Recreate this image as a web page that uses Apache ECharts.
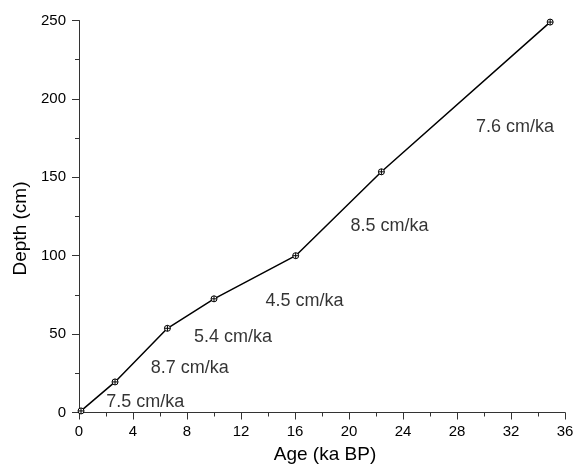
<!DOCTYPE html>
<html>
<head>
<meta charset="utf-8">
<title>Age-depth model</title>
<script src="https://cdn.jsdelivr.net/npm/echarts@6/dist/echarts.min.js"></script>
<style>
html, body { margin: 0; padding: 0; background: #fff; }
#chart { width: 574px; height: 464px; }
</style>
</head>
<body>
<div id="chart"></div>
<script>
// dated levels
var ages = [0.15, 2.67, 6.55, 10.0, 16.05, 22.4, 34.9];
var depths = [1, 19.5, 53.7, 72.5, 100, 153.5, 249];

// sedimentation rate labels
var rateText = ['7.5 cm/ka', '8.7 cm/ka', '5.4 cm/ka', '4.5 cm/ka', '8.5 cm/ka', '7.6 cm/ka'];
var rateAge = [4.9, 8.2, 11.4, 16.7, 23.0, 32.3];
var rateDepth = [6.9, 28.4, 48.3, 71.1, 118.9, 182.3];

var font = 'Liberation Sans, Arial, sans-serif';
var axisColor = '#333';

// circle with cross
var crossCircle = 'path://M0,5A5,5 0 1,1 10,5A5,5 0 1,1 0,5ZM5,0L5,10M0,5L10,5';

var chart = echarts.init(document.getElementById('chart'));

chart.setOption({
    animation: false,
    grid: { left: 79, right: 9, top: 20.5, bottom: 51.5, containLabel: false, outerBoundsMode: 'none' },
    xAxis: {
        type: 'value',
        min: 0, max: 36, interval: 4,
        name: 'Age (ka BP)',
        nameLocation: 'middle',
        nameGap: 33,
        nameTextStyle: { fontFamily: font, fontSize: 19, color: '#000', padding: [0, 0, 0, 6] },
        axisLine: { show: true, lineStyle: { color: axisColor, width: 1 } },
        axisTick: { show: true, inside: false, length: 7, lineStyle: { color: axisColor } },
        minorTick: { show: true, splitNumber: 2, length: 4, lineStyle: { color: axisColor } },
        axisLabel: { fontFamily: font, fontSize: 15, color: '#000', margin: 12 },
        splitLine: { show: false }
    },
    yAxis: {
        type: 'value',
        min: 0, max: 250, interval: 50,
        name: 'Depth (cm)',
        nameLocation: 'middle',
        nameGap: 48,
        nameTextStyle: { fontFamily: font, fontSize: 19, color: '#000', padding: [0, 24, 0, 0] },
        axisLine: { show: true, lineStyle: { color: axisColor, width: 1 } },
        axisTick: { show: true, inside: false, length: 7, lineStyle: { color: axisColor } },
        minorTick: { show: true, splitNumber: 2, length: 4, lineStyle: { color: axisColor } },
        axisLabel: { fontFamily: font, fontSize: 15, color: '#000', margin: 13 },
        splitLine: { show: false }
    },
    series: [
        {
            type: 'line',
            data: ages.map(function (a, i) { return [a, depths[i]]; }),
            symbol: crossCircle,
            symbolSize: 6,
            showAllSymbol: true,
            lineStyle: { color: '#000', width: 1.5 },
            itemStyle: { color: '#fff', borderColor: '#000', borderWidth: 1 },
            z: 3
        },
        {
            // rate annotations
            type: 'scatter',
            data: rateAge.map(function (a, i) { return [a, rateDepth[i], rateText[i]]; }),
            symbolSize: 0,
            label: {
                show: true,
                position: 'inside',
                formatter: function (p) { return p.value[2]; },
                fontFamily: font,
                fontSize: 18,
                color: '#000'
            },
            silent: true
        }
    ]
});
</script>
</body>
</html>
